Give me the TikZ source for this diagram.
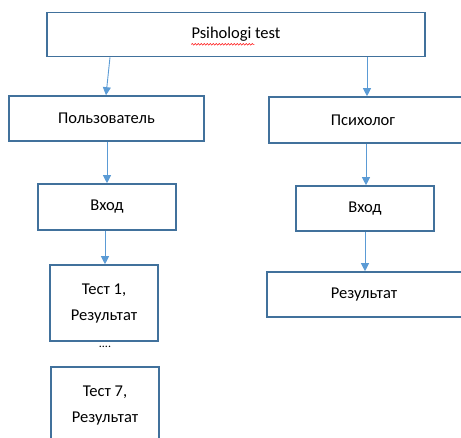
\documentclass[tikz,border=0pt]{standalone}
\usepackage{fontspec}
\setmainfont{Carlito}
\usetikzlibrary{arrows.meta,decorations.pathmorphing,calc}
\definecolor{boxblue}{HTML}{41719C}
\definecolor{arrblue}{HTML}{5B9BD5}
\tikzset{
  box/.style={draw=boxblue, line width=1.6pt, fill=white, inner sep=0pt},
  txt/.style={font=\fontsize{16.5}{26}\selectfont, inner sep=0pt, align=center},
  conn/.style={draw=arrblue, line width=0.9pt, -{Triangle[width=8pt,length=8pt]}},
}
\begin{document}
\begin{tikzpicture}[x=1pt,y=-1pt]
\useasboundingbox (0,0) rectangle (461,438);
\clip (0,0) rectangle (461,438);
% boxes
\node[box, minimum width=378pt, minimum height=44pt] (top) at (236,34.5) {};
\node[txt] (topT) at (236,34) {Psihologi test};
\node[box, minimum width=195pt, minimum height=45pt] (user) at (106.5,118.5) {};
\node[txt] (userT) at (106.5,118.5) {Пользователь};
\node[box, minimum width=210pt, minimum height=46pt] (psy) at (374,120) {};
\node[txt] (psyT) at (363,120) {Психолог};
\node[box, minimum width=138pt, minimum height=46pt] (in1) at (107,207) {};
\node[txt] (in1T) at (107,207) {Вход};
\node[box, minimum width=138pt, minimum height=45pt] (in2) at (365,208.5) {};
\node[txt] (in2T) at (365,208.5) {Вход};
\node[box, minimum width=108pt, minimum height=76pt] (t1) at (104,303) {};
\node[txt] (t1T) at (104,303.5) {Тест 1,\\Результат};
\node[txt, font=\fontsize{12}{14}\selectfont] (dots) at (105,347) {....};
\node[box, minimum width=108pt, minimum height=76pt] (t7) at (105,405) {};
\node[txt] (t7T) at (105,406) {Тест 7,\\Результат};
\node[box, minimum width=210pt, minimum height=45pt] (res) at (372,294.5) {};
\node[txt] (resT) at (364,294.5) {Результат};
% spell-check underline
\draw[red, line width=0.5pt, decorate, decoration={snake, amplitude=0.8pt, segment length=3pt}]
  ($(topT.south west)+(0,3)$) -- ++(63,0);
% connectors
\draw[conn] (top.south -| 110,0) -- (user.north -| 106,0);
\draw[conn] (top.south -| 367,0) -- (psy.north -| 367,0);
\draw[conn] (user.south -| 107,0) -- (in1.north -| 107,0);
\draw[conn] (psy.south -| 366,0) -- (in2.north -| 366,0);
\draw[conn] (in1.south -| 105,0) -- (t1.north -| 105,0);
\draw[conn] (in2.south -| 365,0) -- (res.north -| 365,0);
\end{tikzpicture}
\end{document}
